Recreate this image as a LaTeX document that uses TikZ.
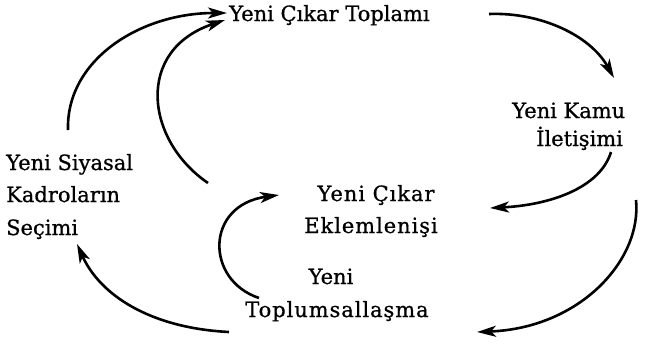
\documentclass[tikz,border=0pt]{standalone}
\usepackage{fontspec}
\setmainfont{DejaVu Serif}[FakeBold=0.8]
\usetikzlibrary{arrows.meta}
\begin{document}
\begin{tikzpicture}[x=1pt,y=-1pt,
  lbl/.style={inner sep=0pt,anchor=base west,font=\fontsize{21}{24}\selectfont},
  lblc/.style={lbl,anchor=base},
  wide/.style={font=\fontsize{21}{24}\selectfont\addfontfeature{LetterSpace=4.5}},
  arc/.style={line width=2.6pt,-{Stealth[length=19pt,width=11pt,inset=5pt]}}]
\useasboundingbox (0,0) rectangle (663,351);
% texts
\node[lbl] (top) at (229,21) {Yeni Çıkar Toplamı};
\node[lbl] (kam1) at (512,118) {Yeni Kamu};
\node[lbl] (kam2) at (536,146) {İletişimi};
\node[lbl] (siy1) at (6,170) {Yeni Siyasal};
\node[lbl] (siy2) at (6,202) {Kadroların};
\node[lbl] (siy3) at (6,235) {Seçimi};
\node[lblc,wide] (ekl1) at (376,201) {Yeni Çıkar};
\node[lblc,wide] (ekl2) at (371,233) {Eklemlenişi};
\node[lblc] (top1) at (331,284) {Yeni};
\node[lblc,wide] (top2) at (337,317) {Toplumsallaşma};
% arrow end points
\coordinate (a1s) at (68,130);  \coordinate (a1e) at (227,13);
\coordinate (a2s) at (208,183); \coordinate (a2e) at (225,20);
\coordinate (a3s) at (489,14);  \coordinate (a3e) at (614,78);
\coordinate (a4s) at (611,152); \coordinate (a4e) at (490,208);
\coordinate (a5s) at (636,200); \coordinate (a5e) at (477,332);
\coordinate (a6s) at (229,332); \coordinate (a6e) at (77,244);
\coordinate (a7s) at (259,298); \coordinate (a7e) at (279,195);
% arrows
\draw[arc] (a1s) .. controls (66,60) and (140,13) .. (a1e);
\draw[arc] (a2s) .. controls (145,140) and (135,50) .. (a2e);
\draw[arc] (a3s) .. controls (540,12) and (590,35) .. (a3e);
\draw[arc] (a4s) .. controls (600,188) and (550,205) .. (a4e);
\draw[arc] (a5s) .. controls (642,260) and (580,328) .. (a5e);
\draw[arc] (a6s) .. controls (150,328) and (100,295) .. (a6e);
\draw[arc] (a7s) .. controls (205,280) and (205,205) .. (a7e);
\end{tikzpicture}
\end{document}
